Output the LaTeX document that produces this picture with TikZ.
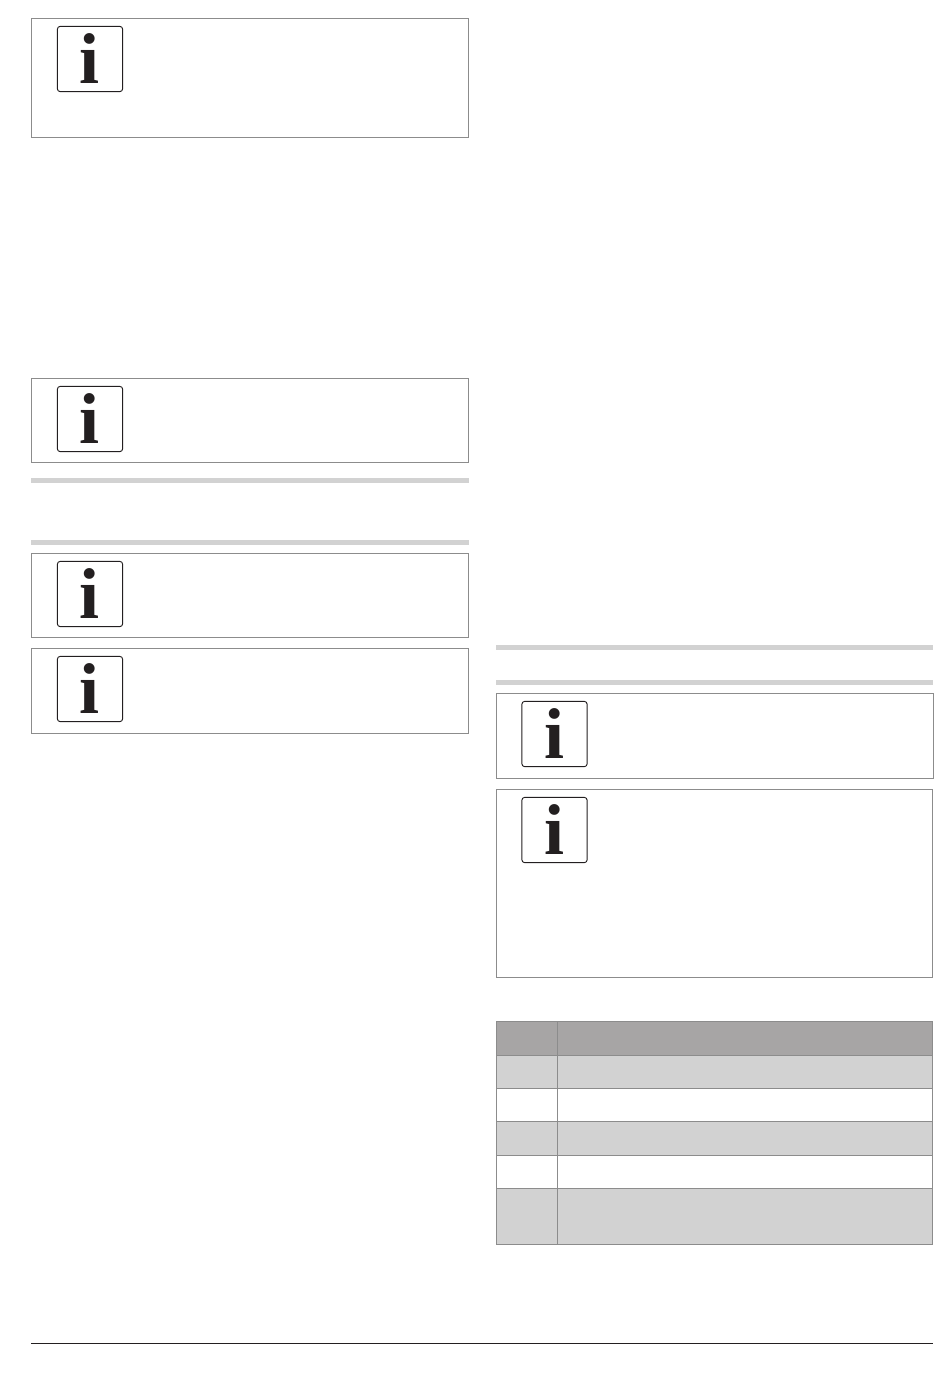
\documentclass[tikz,border=0pt]{standalone}
\usepackage{fontspec}
\newfontfamily\iconfont{Liberation Serif}
\definecolor{framegray}{RGB}{140,140,140}
\definecolor{headgray}{RGB}{167,165,165}
\definecolor{rowgray}{RGB}{210,210,210}
\definecolor{inkblack}{RGB}{35,31,32}
\tikzset{
  notebox/.style={draw=framegray,line width=0.9},
  iconbox/.style={draw=inkblack,line width=0.7,rounded corners=2.2,minimum size=49pt,inner sep=0pt,text=inkblack,font=\iconfont\bfseries\fontsize{54}{54}\selectfont},
  rulebar/.style={fill=rowgray,draw=none},
  headcell/.style={fill=headgray,draw=framegray,line width=0.9},
  rowcell/.style={fill=rowgray,draw=framegray,line width=0.9},
  plaincell/.style={fill=white,draw=framegray,line width=0.9}
}
\begin{document}
\begin{tikzpicture}[x=0.75pt,y=0.75pt,yscale=-1,xscale=1]
\path[use as bounding box] (0,0) rectangle (950,1374);

%Left column: note frames
\draw[notebox] (31.5,18.5) rectangle (468.5,137.5);
\draw[notebox] (31.5,378.5) rectangle (468.5,462.5);
\draw[notebox] (31.5,553.5) rectangle (468.5,637.5);
\draw[notebox] (31.5,648.5) rectangle (468.5,733.5);
%Left column: grey bars
\fill[rulebar] (31,478) rectangle (468.5,483);
\fill[rulebar] (31,540) rectangle (468.5,545);
%Left column: icons
\node[iconbox] (iconA) at (90,59) {\raisebox{1pt}{i}};
\node[iconbox] (iconB) at (90,419) {\raisebox{1pt}{i}};
\node[iconbox] (iconC) at (90,594) {\raisebox{1pt}{i}};
\node[iconbox] (iconD) at (90,689) {\raisebox{1pt}{i}};

%Right column: grey bars
\fill[rulebar] (496,645) rectangle (933,650);
\fill[rulebar] (496,680) rectangle (933,685);
%Right column: note frames
\draw[notebox] (496.5,693.5) rectangle (933.5,778.5);
\draw[notebox] (496.5,789.5) rectangle (932.5,977.5);
%Right column: icons
\node[iconbox] (iconE) at (554.5,734) {\raisebox{1pt}{i}};
\node[iconbox] (iconF) at (554.5,830) {\raisebox{1pt}{i}};

%Table
\draw[headcell] (496.5,1021.5) rectangle (557.5,1055.5);
\draw[headcell] (557.5,1021.5) rectangle (932.5,1055.5);
\draw[rowcell] (496.5,1055.5) rectangle (557.5,1088.5);
\draw[rowcell] (557.5,1055.5) rectangle (932.5,1088.5);
\draw[plaincell] (496.5,1088.5) rectangle (557.5,1121.5);
\draw[plaincell] (557.5,1088.5) rectangle (932.5,1121.5);
\draw[rowcell] (496.5,1121.5) rectangle (557.5,1155.5);
\draw[rowcell] (557.5,1121.5) rectangle (932.5,1155.5);
\draw[plaincell] (496.5,1155.5) rectangle (557.5,1188.5);
\draw[plaincell] (557.5,1155.5) rectangle (932.5,1188.5);
\draw[rowcell] (496.5,1188.5) rectangle (557.5,1244.5);
\draw[rowcell] (557.5,1188.5) rectangle (932.5,1244.5);

%Footer line
\coordinate (footL) at (31,1343.5);
\coordinate (footR) at (933,1343.5);
\draw[draw=inkblack,line width=0.9] (footL) -- (footR);

\end{tikzpicture}
\end{document}
